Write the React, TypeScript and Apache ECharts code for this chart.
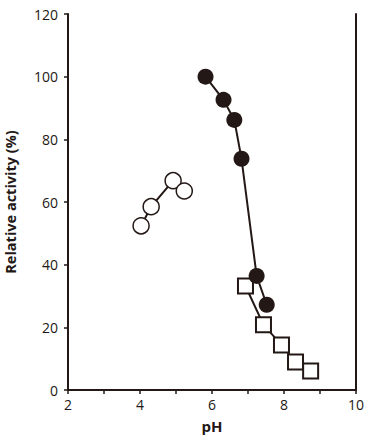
import React, { useEffect, useRef } from "react";
import * as echarts from "echarts";

const filledX = [5.82, 6.32, 6.62, 6.82, 7.24, 7.52];
const filledY = [100, 92.6, 86.2, 73.8, 36.4, 27.2];
const openX = [4.03, 4.31, 4.92, 5.23];
const openY = [52.4, 58.5, 66.8, 63.5];
const squareX = [6.93, 7.43, 7.93, 8.32, 8.74];
const squareY = [33.2, 20.8, 14.4, 8.9, 6.1];

const xTicks = [2, 4, 6, 8, 10];
const yTicks = [0, 20, 40, 60, 80, 100, 120];

const INK = "#231815";
const FONT = "'Open Sans', 'Noto Sans', sans-serif";

const zip = (xs: number[], ys: number[]) => xs.map((x, i) => [x, ys[i]]);

export default function App() {
  const ref = useRef<HTMLDivElement>(null);
  useEffect(() => {
    if (!ref.current) return;
    const chart = echarts.init(ref.current, null, { renderer: "svg" });
    const axisLine = { show: true, lineStyle: { color: INK, width: 2 } };
    chart.setOption({
      animation: false,
      backgroundColor: "#fff",
      grid: { left: 68, right: 15, top: 14, bottom: 49, containLabel: false, outerBoundsMode: "none" },
      xAxis: [
        {
          type: "value",
          min: 2,
          max: 10,
          interval: 1,
          name: "pH",
          nameLocation: "middle",
          nameGap: 28,
          nameTextStyle: { fontFamily: FONT, fontWeight: "bold", fontSize: 15, color: INK },
          axisLine,
          axisTick: { show: true, length: 4, lineStyle: { color: INK, width: 1.5 } },
          axisLabel: {
            fontFamily: FONT,
            fontSize: 14,
            color: INK,
            margin: 7,
            formatter: (v: number) => (xTicks.includes(v) ? String(v) : ""),
          },
          splitLine: { show: false },
        },
        {
          type: "value",
          position: "top",
          min: 2,
          max: 10,
          axisLine,
          axisTick: { show: false },
          axisLabel: { show: false },
          splitLine: { show: false },
        },
      ],
      yAxis: [
        {
          type: "value",
          min: 0,
          max: 120,
          interval: 20,
          name: "Relative activity (%)",
          nameLocation: "middle",
          nameGap: 50,
          nameTextStyle: { fontFamily: FONT, fontWeight: "bold", fontSize: 14.5, color: INK },
          axisLine,
          axisTick: { show: true, length: 4, lineStyle: { color: INK, width: 1.5 } },
          axisLabel: {
            fontFamily: FONT,
            fontSize: 14,
            color: INK,
            margin: 10,
            formatter: (v: number) => (yTicks.includes(v) ? String(v) : ""),
          },
          splitLine: { show: false },
        },
        {
          type: "value",
          position: "right",
          min: 0,
          max: 120,
          axisLine,
          axisTick: { show: false },
          axisLabel: { show: false },
          splitLine: { show: false },
        },
      ],
      series: [
        {
          type: "line",
          data: zip(openX, openY),
          symbol: "circle",
          symbolSize: 16,
          lineStyle: { color: INK, width: 2 },
          itemStyle: { color: "#fff", borderColor: INK, borderWidth: 1.5 },
          z: 2,
        },
        {
          type: "line",
          data: zip(squareX, squareY),
          symbol: "rect",
          symbolSize: 15,
          lineStyle: { color: INK, width: 2 },
          itemStyle: { color: "#fff", borderColor: INK, borderWidth: 2 },
          z: 3,
        },
        {
          type: "line",
          data: zip(filledX, filledY),
          symbol: "circle",
          symbolSize: 16,
          lineStyle: { color: INK, width: 2 },
          itemStyle: { color: INK, borderColor: INK, borderWidth: 0 },
          z: 4,
        },
      ],
    });
    return () => chart.dispose();
  }, []);
  return <div ref={ref} style={{ width: 371, height: 439, position: "absolute", left: 0, top: 0 }} />;
}
